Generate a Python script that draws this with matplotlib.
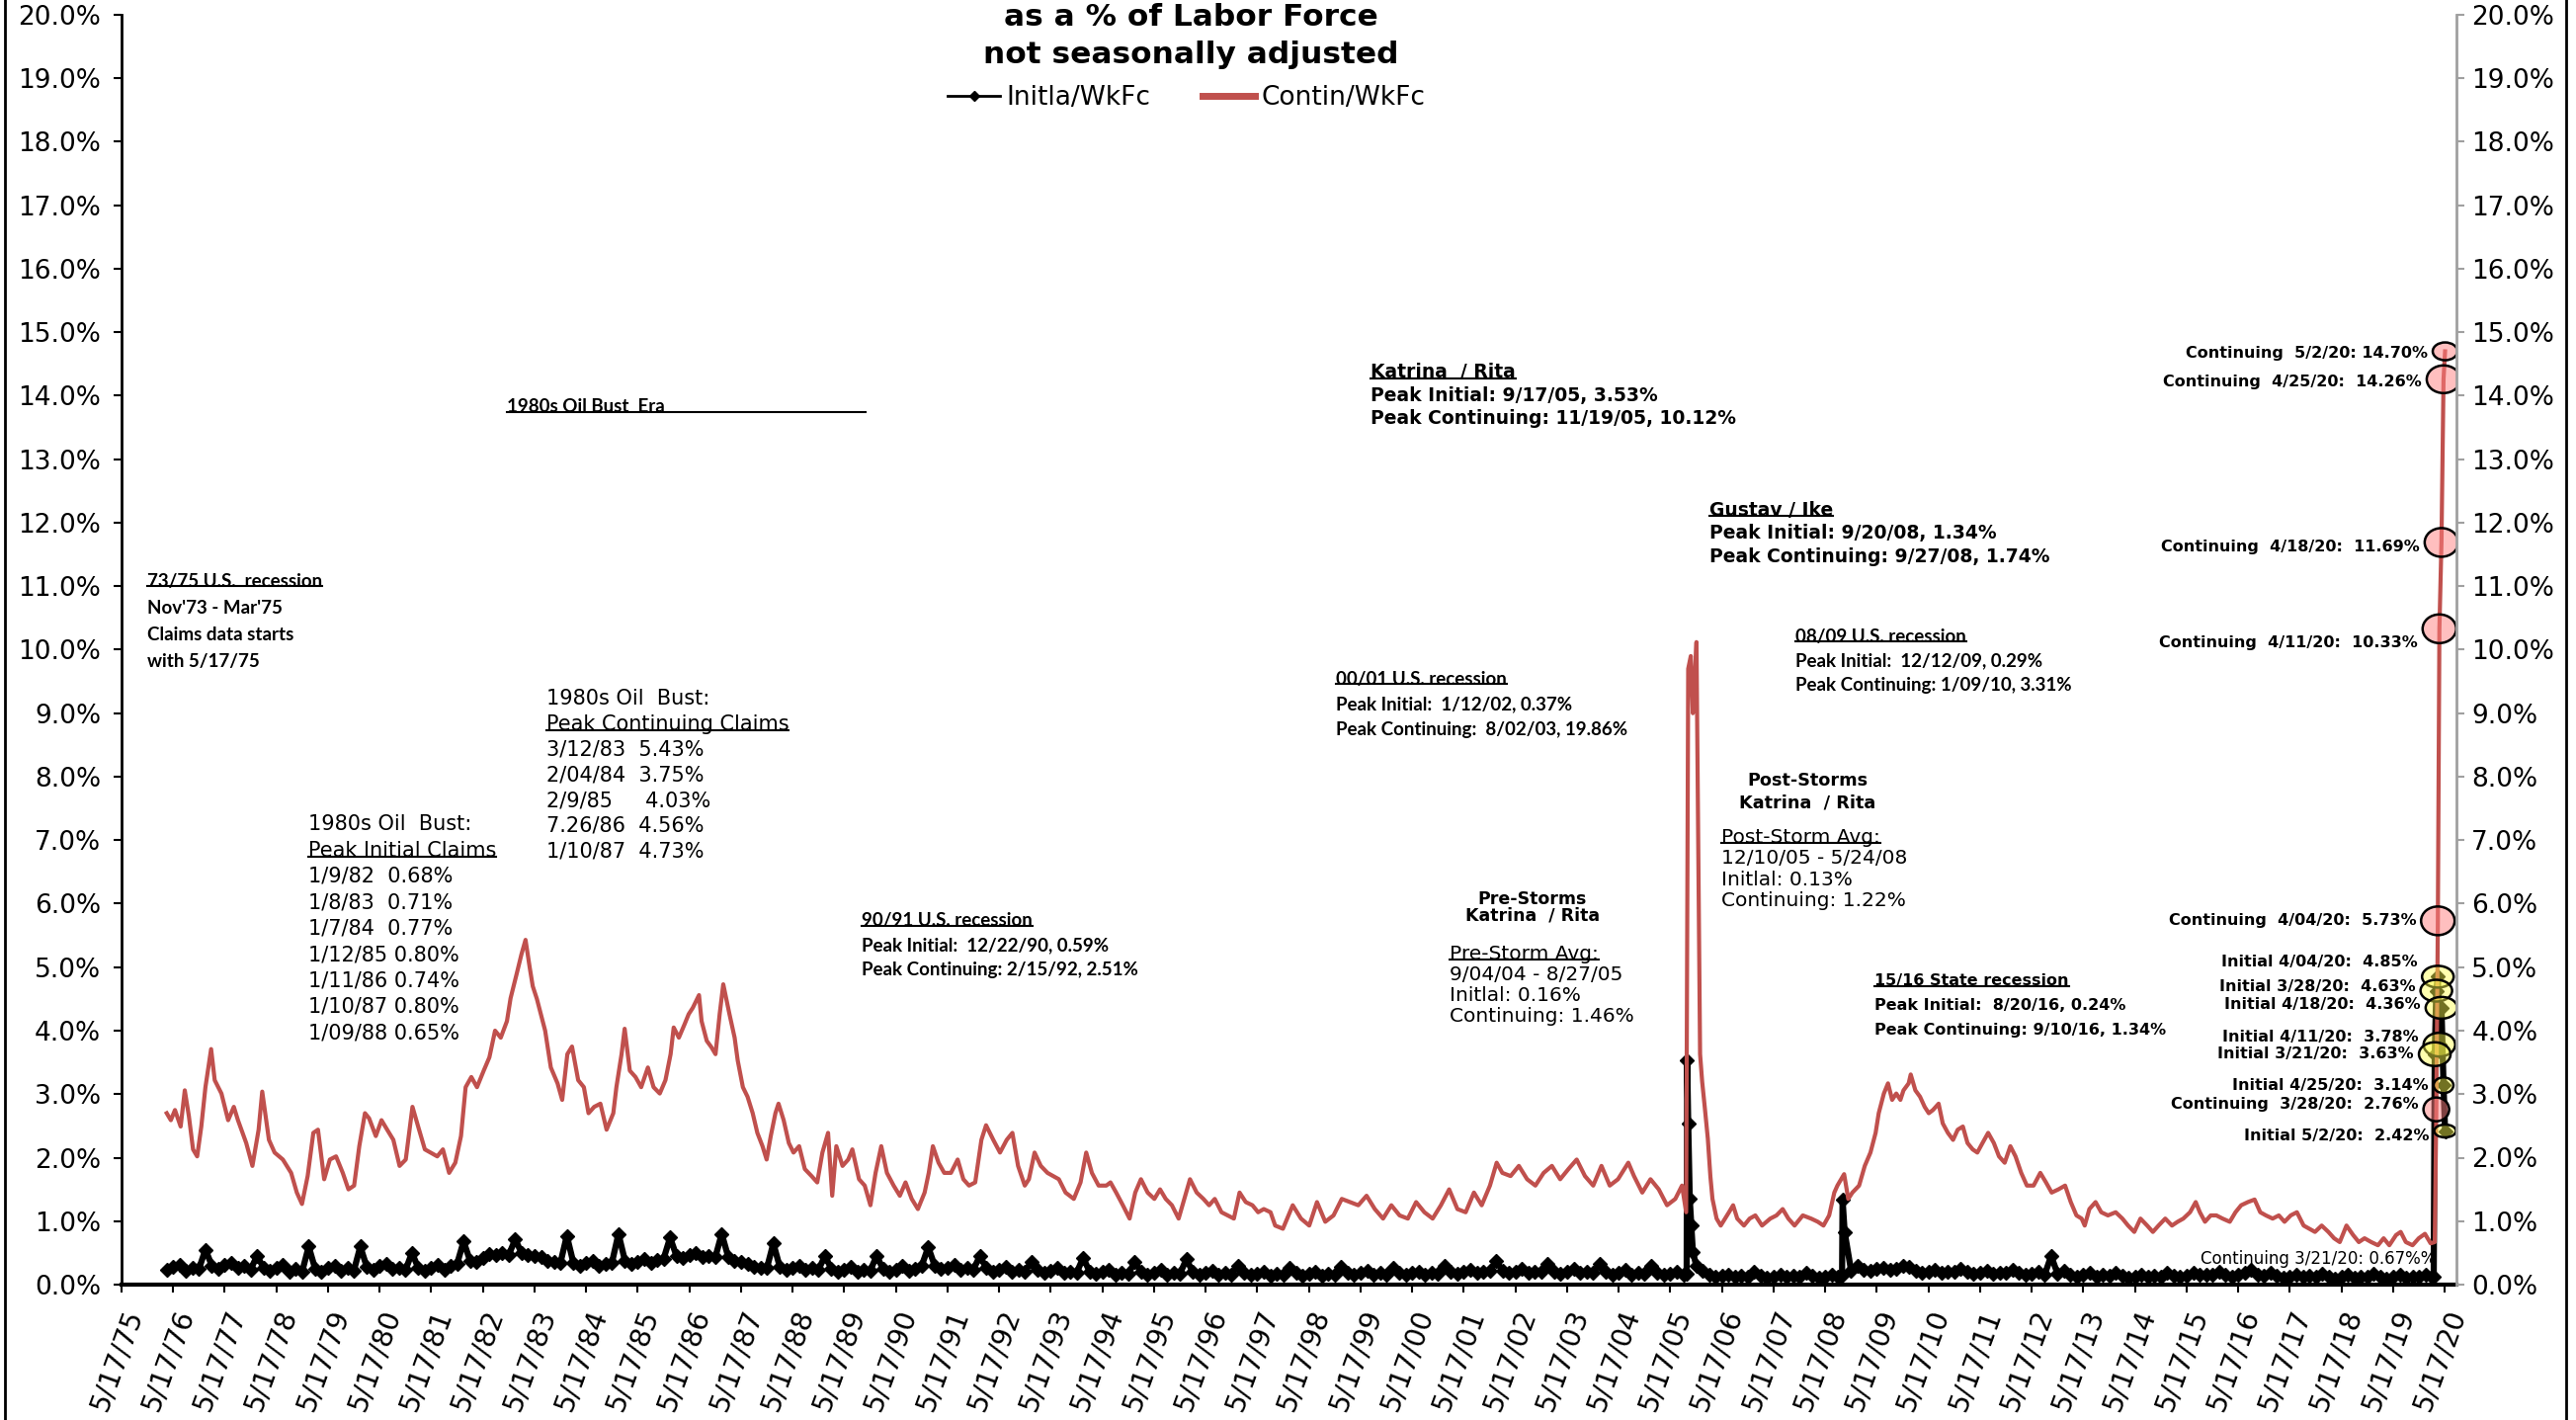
import numpy as np
import matplotlib
matplotlib.use("Agg")
import matplotlib.pyplot as plt
import matplotlib.transforms as mtrans
from matplotlib.patches import Ellipse
from matplotlib.lines import Line2D
from matplotlib.ticker import PercentFormatter

# ---------------------------------------------------------------- data
# continuing claims as % of labor force (decimal year, value)
cont_x = [
    1976.25, 1976.33, 1976.41, 1976.52, 1976.60, 1976.68, 1976.76, 1976.84, 1976.92,
    1977.00, 1977.11, 1977.18, 1977.31, 1977.44, 1977.55, 1977.63, 1977.79, 1977.91,
    1978.03, 1978.10, 1978.23, 1978.34, 1978.50, 1978.66, 1978.77, 1978.87, 1978.98,
    1979.09, 1979.18, 1979.30, 1979.41, 1979.53, 1979.66, 1979.77, 1979.88, 1979.98,
    1980.09, 1980.17, 1980.30, 1980.41, 1980.52, 1980.64, 1980.76, 1980.88,
    1981.01, 1981.12, 1981.25, 1981.36, 1981.49, 1981.60, 1981.72, 1981.84, 1981.95,
    1982.04, 1982.15, 1982.26, 1982.39, 1982.50, 1982.61, 1982.72, 1982.84, 1982.91,
    1983.03, 1983.12, 1983.20, 1983.28, 1983.34, 1983.42, 1983.58, 1983.69, 1983.82, 1983.91,
    1984.01, 1984.10, 1984.22, 1984.33, 1984.42, 1984.53, 1984.65, 1984.77, 1984.90, 1984.96,
    1985.06, 1985.12, 1985.22, 1985.33, 1985.44, 1985.57, 1985.68, 1985.80, 1985.91,
    1986.01, 1986.07, 1986.17, 1986.28, 1986.36, 1986.44, 1986.56, 1986.61, 1986.71, 1986.80, 1986.88, 1986.96,
    1987.03, 1987.15, 1987.25, 1987.31, 1987.41, 1987.50, 1987.60, 1987.69, 1987.79, 1987.87, 1987.95,
    1988.04, 1988.10, 1988.20, 1988.30, 1988.39, 1988.50, 1988.61, 1988.74, 1988.85, 1988.95,
    1989.06, 1989.14, 1989.22, 1989.34, 1989.45, 1989.53, 1989.66, 1989.77, 1989.88, 1989.98,
    1990.09, 1990.20, 1990.33, 1990.45, 1990.56, 1990.68, 1990.80, 1990.93,
    1991.01, 1991.09, 1991.20, 1991.31, 1991.44, 1991.57, 1991.68, 1991.79, 1991.91,
    1992.03, 1992.12, 1992.26, 1992.39, 1992.52, 1992.63, 1992.74, 1992.87, 1992.95,
    1993.06, 1993.18, 1993.31, 1993.42, 1993.53, 1993.66, 1993.82, 1993.95,
    1994.06, 1994.17, 1994.30, 1994.45, 1994.53, 1994.64, 1994.77, 1994.90,
    1995.01, 1995.12, 1995.25, 1995.38, 1995.49, 1995.60, 1995.72, 1995.85, 1995.96,
    1996.07, 1996.20, 1996.33, 1996.44, 1996.55, 1996.68, 1996.80, 1996.92,
    1997.03, 1997.15, 1997.28, 1997.39, 1997.50, 1997.63, 1997.72, 1997.87,
    1998.06, 1998.22, 1998.38, 1998.53, 1998.69, 1998.85,
    1999.01, 1999.17, 1999.33, 1999.49, 1999.65, 1999.81, 1999.97,
    2000.13, 2000.29, 2000.45, 2000.61, 2000.77, 2000.93,
    2001.09, 2001.25, 2001.41, 2001.57, 2001.72, 2001.88,
    2002.01, 2002.12, 2002.28, 2002.44, 2002.60, 2002.76, 2002.92,
    2003.08, 2003.24, 2003.40, 2003.56, 2003.72, 2003.88,
    2004.04, 2004.20, 2004.36, 2004.56, 2004.67, 2004.83, 2004.99,
    2005.15, 2005.31, 2005.47, 2005.60, 2005.68, 2005.72, 2005.77, 2005.81, 2005.85, 2005.88,
    2005.92, 2005.95, 2005.99, 2006.04, 2006.10, 2006.15, 2006.19, 2006.27, 2006.35,
    2006.51, 2006.59, 2006.67, 2006.80, 2006.91,
    2007.02, 2007.15, 2007.31, 2007.43, 2007.55, 2007.66, 2007.78, 2007.94,
    2008.10, 2008.23, 2008.34, 2008.45, 2008.55, 2008.61, 2008.74, 2008.82, 2008.90,
    2009.03, 2009.14, 2009.25, 2009.35, 2009.41, 2009.51, 2009.59, 2009.67, 2009.75, 2009.83, 2009.89, 2009.99,
    2010.03, 2010.12, 2010.21, 2010.30, 2010.38, 2010.46, 2010.57, 2010.65, 2010.75, 2010.85, 2010.94,
    2011.04, 2011.13, 2011.23, 2011.32, 2011.42, 2011.53, 2011.64, 2011.74, 2011.85, 2011.96,
    2012.06, 2012.17, 2012.28, 2012.41, 2012.54, 2012.65, 2012.76, 2012.89,
    2013.02, 2013.13, 2013.24, 2013.34, 2013.40, 2013.49, 2013.61, 2013.72, 2013.85,
    2014.00, 2014.13, 2014.24, 2014.36, 2014.48, 2014.61, 2014.72, 2014.83, 2014.96,
    2015.09, 2015.20, 2015.31, 2015.44, 2015.55, 2015.63, 2015.73, 2015.84, 2015.95,
    2016.07, 2016.21, 2016.32, 2016.43, 2016.56, 2016.69, 2016.80, 2016.91,
    2017.04, 2017.16, 2017.27, 2017.39, 2017.51, 2017.64, 2017.75, 2017.86, 2017.99,
    2018.12, 2018.23, 2018.34, 2018.47, 2018.60, 2018.71, 2018.82, 2018.95,
    2019.08, 2019.19, 2019.30, 2019.43, 2019.52, 2019.62, 2019.75, 2019.87, 2019.99,
    2020.10, 2020.18, 2020.21, 2020.24, 2020.27, 2020.31, 2020.35, 2020.38,
]
cont_vals = [
    2.70, 2.59, 2.75, 2.49, 3.06, 2.65, 2.13, 2.02, 2.49,
    3.11, 3.71, 3.22, 3.01, 2.59, 2.80, 2.59, 2.23, 1.87,
    2.44, 3.04, 2.28, 2.08, 1.97, 1.76, 1.45, 1.27, 1.71,
    2.39, 2.44, 1.66, 1.97, 2.02, 1.76, 1.50, 1.56, 2.18,
    2.70, 2.62, 2.34, 2.59, 2.44, 2.28, 1.87, 1.97,
    2.80, 2.49, 2.13, 2.08, 2.02, 2.13, 1.76, 1.92, 2.34,
    3.11, 3.27, 3.11, 3.37, 3.58, 4.00, 3.89, 4.15, 4.51,
    4.90, 5.20, 5.43, 5.00, 4.70, 4.50, 4.00, 3.42, 3.17, 2.91,
    3.63, 3.75, 3.22, 3.11, 2.70, 2.80, 2.85, 2.44, 2.70, 3.11,
    3.63, 4.03, 3.37, 3.27, 3.11, 3.42, 3.11, 3.01, 3.22,
    3.63, 4.05, 3.89, 4.10, 4.26, 4.36, 4.56, 4.15, 3.84, 3.74, 3.63, 4.26,
    4.73, 4.26, 3.89, 3.53, 3.11, 2.96, 2.70, 2.39, 2.18, 1.97, 2.34,
    2.70, 2.85, 2.59, 2.23, 2.08, 2.18, 1.82, 1.71, 1.61, 2.08,
    2.39, 1.40, 2.18, 1.87, 1.97, 2.13, 1.66, 1.56, 1.25, 1.76,
    2.18, 1.76, 1.56, 1.40, 1.61, 1.35, 1.19, 1.45,
    1.76, 2.18, 1.92, 1.76, 1.76, 1.97, 1.66, 1.56, 1.61,
    2.28, 2.51, 2.28, 2.08, 2.28, 2.39, 1.87, 1.56, 1.66,
    2.08, 1.87, 1.76, 1.71, 1.66, 1.45, 1.35, 1.61,
    2.08, 1.76, 1.56, 1.56, 1.61, 1.45, 1.25, 1.04,
    1.45, 1.66, 1.45, 1.35, 1.50, 1.35, 1.25, 1.04, 1.35,
    1.66, 1.45, 1.35, 1.25, 1.35, 1.14, 1.09, 1.04,
    1.45, 1.30, 1.25, 1.14, 1.19, 1.14, 0.93, 0.88,
    1.25, 1.04, 0.93, 1.30, 0.99, 1.09,
    1.35, 1.30, 1.25, 1.40, 1.19, 1.04, 1.25,
    1.09, 1.04, 1.30, 1.14, 1.04, 1.25,
    1.50, 1.19, 1.14, 1.45, 1.25, 1.56,
    1.92, 1.76, 1.71, 1.87, 1.66, 1.56, 1.76,
    1.87, 1.66, 1.82, 1.97, 1.71, 1.56,
    1.87, 1.56, 1.66, 1.92, 1.71, 1.45, 1.66,
    1.50, 1.25, 1.35, 1.56, 1.14, 9.70, 9.90, 9.00, 9.60, 10.12,
    6.50, 3.63, 3.20, 2.80, 2.30, 1.70, 1.35, 1.04, 0.93,
    1.14, 1.25, 1.04, 0.93, 1.04,
    1.09, 0.93, 1.04, 1.09, 1.19, 1.04, 0.93, 1.09,
    1.04, 0.99, 0.93, 1.09, 1.45, 1.56, 1.74, 1.35, 1.45,
    1.56, 1.87, 2.08, 2.39, 2.70, 3.01, 3.17, 2.91, 3.01, 2.91, 3.06, 3.17,
    3.31, 3.06, 2.96, 2.80, 2.70, 2.75, 2.85, 2.54, 2.39, 2.28, 2.44,
    2.49, 2.23, 2.13, 2.08, 2.23, 2.39, 2.23, 2.02, 1.92, 2.18,
    2.02, 1.76, 1.56, 1.56, 1.76, 1.61, 1.45, 1.50,
    1.56, 1.30, 1.09, 1.04, 0.93, 1.19, 1.30, 1.14, 1.09,
    1.14, 1.04, 0.93, 0.83, 1.04, 0.93, 0.83, 0.93, 1.04,
    0.93, 0.99, 1.04, 1.14, 1.30, 1.14, 0.99, 1.09, 1.09,
    1.04, 0.99, 1.14, 1.25, 1.30, 1.34, 1.14, 1.09,
    1.04, 1.09, 0.99, 1.09, 1.14, 0.93, 0.88, 0.83, 0.93,
    0.83, 0.73, 0.67, 0.93, 0.78, 0.67, 0.73, 0.67,
    0.62, 0.73, 0.62, 0.78, 0.83, 0.67, 0.62, 0.73, 0.80,
    0.65, 0.67, 2.76, 5.73, 10.33, 11.69, 14.26, 14.70,
]

# initial claims as % of labor force, read every 1/8 year from 1976.25 to 2020.125
init_start = 1976.25
init_step = 1 / 8
init_vals = [
    0.24, 0.28, 0.31, 0.22, 0.27, 0.25,                    # 1976
    0.55, 0.30, 0.25, 0.31, 0.34, 0.26, 0.29, 0.24,        # 1977
    0.45, 0.27, 0.22, 0.27, 0.31, 0.21, 0.25, 0.21,        # 1978
    0.60, 0.25, 0.21, 0.26, 0.30, 0.22, 0.26, 0.22,        # 1979
    0.60, 0.28, 0.24, 0.29, 0.33, 0.25, 0.27, 0.23,        # 1980
    0.50, 0.26, 0.22, 0.27, 0.31, 0.24, 0.30, 0.33,        # 1981
    0.68, 0.38, 0.36, 0.42, 0.48, 0.46, 0.50, 0.47,        # 1982
    0.71, 0.50, 0.46, 0.45, 0.44, 0.38, 0.36, 0.34,        # 1983
    0.77, 0.35, 0.30, 0.34, 0.37, 0.29, 0.33, 0.35,        # 1984
    0.80, 0.38, 0.33, 0.36, 0.40, 0.34, 0.39, 0.41,        # 1985
    0.74, 0.45, 0.42, 0.46, 0.50, 0.44, 0.45, 0.43,        # 1986
    0.80, 0.44, 0.38, 0.36, 0.33, 0.28, 0.27, 0.26,        # 1987
    0.65, 0.28, 0.24, 0.27, 0.30, 0.23, 0.26, 0.24,        # 1988
    0.45, 0.25, 0.21, 0.24, 0.28, 0.21, 0.24, 0.22,        # 1989
    0.45, 0.25, 0.21, 0.24, 0.29, 0.22, 0.25, 0.30,        # 1990
    0.59, 0.30, 0.25, 0.27, 0.31, 0.24, 0.27, 0.24,        # 1991
    0.45, 0.26, 0.21, 0.24, 0.28, 0.20, 0.23, 0.21,        # 1992
    0.36, 0.23, 0.19, 0.22, 0.26, 0.19, 0.21, 0.19,        # 1993
    0.42, 0.21, 0.17, 0.20, 0.24, 0.16, 0.19, 0.17,        # 1994
    0.36, 0.20, 0.16, 0.19, 0.23, 0.16, 0.19, 0.17,        # 1995
    0.40, 0.20, 0.16, 0.19, 0.22, 0.15, 0.18, 0.16,        # 1996
    0.30, 0.19, 0.15, 0.17, 0.21, 0.14, 0.17, 0.15,        # 1997
    0.27, 0.18, 0.14, 0.17, 0.21, 0.14, 0.17, 0.16,        # 1998
    0.28, 0.19, 0.15, 0.18, 0.22, 0.15, 0.18, 0.16,        # 1999
    0.26, 0.18, 0.15, 0.18, 0.21, 0.15, 0.18, 0.17,        # 2000
    0.30, 0.20, 0.17, 0.20, 0.24, 0.18, 0.21, 0.22,        # 2001
    0.37, 0.22, 0.18, 0.21, 0.25, 0.18, 0.21, 0.20,        # 2002
    0.33, 0.21, 0.17, 0.20, 0.25, 0.18, 0.21, 0.19,        # 2003
    0.32, 0.20, 0.16, 0.19, 0.23, 0.16, 0.19, 0.17,        # 2004
    0.30, 0.19, 0.15, 0.17, 0.20, 0.16, 1.35, 0.30,        # 2005
    0.22, 0.15, 0.12, 0.14, 0.16, 0.12, 0.14, 0.13,        # 2006
    0.20, 0.14, 0.11, 0.13, 0.16, 0.12, 0.14, 0.13,        # 2007
    0.19, 0.14, 0.11, 0.13, 0.15, 0.12, 0.83, 0.22,        # 2008
    0.30, 0.24, 0.22, 0.25, 0.27, 0.23, 0.25, 0.29,        # 2009
    0.28, 0.22, 0.19, 0.21, 0.24, 0.19, 0.21, 0.20,        # 2010
    0.25, 0.20, 0.17, 0.19, 0.22, 0.17, 0.19, 0.18,        # 2011
    0.24, 0.18, 0.15, 0.17, 0.20, 0.16, 0.45, 0.17,        # 2012
    0.22, 0.16, 0.13, 0.15, 0.18, 0.13, 0.15, 0.14,        # 2013
    0.19, 0.14, 0.11, 0.13, 0.16, 0.12, 0.14, 0.13,        # 2014
    0.18, 0.14, 0.12, 0.14, 0.18, 0.15, 0.16, 0.15,        # 2015
    0.20, 0.15, 0.13, 0.15, 0.19, 0.24, 0.16, 0.14,        # 2016
    0.19, 0.14, 0.11, 0.13, 0.16, 0.12, 0.14, 0.13,        # 2017
    0.17, 0.13, 0.10, 0.12, 0.15, 0.11, 0.13, 0.12,        # 2018
    0.17, 0.13, 0.10, 0.12, 0.15, 0.11, 0.13, 0.12,        # 2019
    0.16, 0.13,                                            # 2020
]
# storm weeks and the 2020 surge, off the regular grid
init_event_x = [2005.69, 2005.70, 2005.72, 2005.78, 2005.81, 2008.70, 2008.71,
                2020.16, 2020.18, 2020.21, 2020.24, 2020.27, 2020.31, 2020.35, 2020.38]
init_event_vals = [0.17, 3.53, 2.54, 0.93, 0.52, 0.14, 1.34,
                   0.12, 3.63, 4.63, 4.85, 3.78, 4.36, 3.14, 2.42]

# 2020 call-outs
cont_hl_labels = ["Continuing  5/2/20: 14.70%", "Continuing  4/25/20:  14.26%",
                  "Continuing  4/18/20:  11.69%", "Continuing  4/11/20:  10.33%",
                  "Continuing  4/04/20:  5.73%", "Continuing  3/28/20:  2.76%"]
cont_hl_x = [2020.38, 2020.35, 2020.31, 2020.27, 2020.24, 2020.21]
cont_hl_vals = [14.70, 14.26, 11.69, 10.33, 5.73, 2.76]
init_hl_labels = ["Initial 4/04/20:  4.85%", "Initial 3/28/20:  4.63%", "Initial 4/18/20:  4.36%",
                  "Initial 4/11/20:  3.78%", "Initial 3/21/20:  3.63%", "Initial 4/25/20:  3.14%",
                  "Initial 5/2/20:  2.42%"]
init_hl_x = [2020.24, 2020.21, 2020.31, 2020.27, 2020.18, 2020.35, 2020.38]
init_hl_vals = [4.85, 4.63, 4.36, 3.78, 3.63, 3.14, 2.42]

tick_years = list(range(1975, 2021))
xtick_labels = ["5/17/%02d" % (y % 100) for y in tick_years]
ytick_vals = list(range(0, 21))

# ---------------------------------------------------------------- style
RED = "#C0504D"
GREY = "#A0A0A0"
DPI = 100
W, H = 2607, 1437

# ellipse sizes (px) and label nudges (px) for the call-outs
cont_hl_size = [(25, 18), (34, 28), (34, 29), (34, 29), (34, 29), (26, 24)]
cont_hl_nudge = [-2, -3, -5, -14, 0, 5]
init_hl_size = [(32, 22), (32, 22), (32, 22), (32, 24), (32, 24), (20, 16), (22, 13)]
init_hl_nudge = [15, 4, 3, 8, 0, 0, -5]

fig = plt.figure(figsize=(W / DPI, H / DPI), dpi=DPI)
ax = fig.add_axes([123 / W, 1 - 1300 / H, (2486 - 123) / W, (1300 - 15) / H])

init_x = init_start + np.arange(len(init_vals)) * init_step
ix = np.concatenate([init_x, init_event_x])
iv = np.concatenate([init_vals, init_event_vals])
order = np.argsort(ix, kind="stable")

ax.plot(ix[order], iv[order], color="black", lw=4.5, marker="D", ms=7.5, zorder=2)
ax.plot(cont_x, cont_vals, color=RED, lw=3, zorder=3)

ax.set_xlim(1975.375, 2020.60)
ax.set_ylim(0, 20)
ax.set_xticks([y + 0.375 for y in tick_years])
ax.set_xticklabels(xtick_labels, rotation=70, ha="right", va="top",
                   rotation_mode="anchor", fontsize=20)
ax.set_yticks(ytick_vals)
ax.yaxis.set_major_formatter(PercentFormatter(xmax=100, decimals=1))
ax.tick_params(axis="x", direction="out", length=6, width=1.5, pad=9)
ax.tick_params(axis="y", direction="out", length=6, width=1.5, pad=9, labelsize=19)
for s in ("top", "right"):
    ax.spines[s].set_visible(False)
ax.spines["left"].set_linewidth(2)
ax.spines["bottom"].set_linewidth(3)

ax2 = ax.twinx()
ax2.set_ylim(0, 20)
ax2.set_yticks(ytick_vals)
ax2.yaxis.set_major_formatter(PercentFormatter(xmax=100, decimals=1))
ax2.tick_params(axis="y", direction="out", length=6, width=1.5, pad=5,
                labelsize=19, color=GREY)
for s in ("top", "left", "bottom"):
    ax2.spines[s].set_visible(False)
ax2.spines["right"].set_color(GREY)
ax2.spines["right"].set_linewidth(2)

# ---------------------------------------------------------------- call-outs
def callouts(xs, vals, labels, sizes, nudges, face):
    for xv, v, lab, (w, h), dy in zip(xs, vals, labels, sizes, nudges):
        tr = fig.dpi_scale_trans + mtrans.ScaledTranslation(xv, v, ax.transData)
        ax.add_patch(Ellipse((0, 0), w / DPI, h / DPI, transform=tr, facecolor=face,
                             edgecolor="black", lw=1.8, zorder=5))
        ax.annotate(lab, xy=(xv, v), xytext=(-(w / 2 + 5) * 72 / DPI, dy * 72 / DPI),
                    textcoords="offset points", ha="right", va="center",
                    fontsize=11.5, fontweight="bold", zorder=6)

callouts(cont_hl_x, cont_hl_vals, cont_hl_labels, cont_hl_size, cont_hl_nudge, (1, 0.5, 0.5, 0.5))
callouts(init_hl_x, init_hl_vals, init_hl_labels, init_hl_size, init_hl_nudge, (1, 1, 0.3, 0.45))

ax.text(2020.20, 0.40, "Continuing 3/21/20: 0.67%%", ha="right", va="center", fontsize=12)

# ---------------------------------------------------------------- notes
underlines = []

def note(x, y, lines, size, gap, weight="normal", family="DejaVu Sans", ha="left",
         uline=None, uline_to=None):
    for i, s in enumerate(lines):
        tr = mtrans.offset_copy(ax.transData, fig=fig, y=-i * gap, units="dots")
        t = ax.text(x, y, s, transform=tr, fontsize=size, fontweight=weight,
                    family=family, ha=ha, va="center", zorder=6)
        if uline == i:
            underlines.append((t, uline_to))

CAL = "Lato"
note(1975.87, 11.08, ["73/75 U.S.  recession", "Nov'73 - Mar'75", "Claims data starts",
                      "with 5/17/75"], 13.5, 27, "bold", CAL, uline=0)
note(1982.84, 13.83, ["1980s Oil Bust  Era"], 13.5, 0, "bold", CAL, uline=0, uline_to=1989.79)
note(1983.60, 9.23, ["1980s Oil  Bust:", "Peak Continuing Claims", "3/12/83  5.43%",
                     "2/04/84  3.75%", "2/9/85     4.03%", "7.26/86  4.56%",
                     "1/10/87  4.73%"], 15, 25.8, uline=1)
note(1978.99, 7.25, ["1980s Oil  Bust:", "Peak Initial Claims", "1/9/82  0.68%",
                     "1/8/83  0.71%", "1/7/84  0.77%", "1/12/85 0.80%", "1/11/86 0.74%",
                     "1/10/87 0.80%", "1/09/88 0.65%"], 15, 26.4, uline=1)
note(1989.71, 5.73, ["90/91 U.S. recession", "Peak Initial:  12/22/90, 0.59%",
                     "Peak Continuing: 2/15/92, 2.51%"], 13.5, 25, "bold", CAL, uline=0)
note(2002.705, 6.07, ["Pre-Storms", "Katrina  / Rita"], 12.5, 16.5, "bold", ha="center")
note(2001.10, 5.21, ["Pre-Storm Avg:", "9/04/04 - 8/27/05", "Initlal: 0.16%",
                     "Continuing: 1.46%"], 14.5, 21, uline=0)
note(1999.57, 14.37, ["Katrina  / Rita", "Peak Initial: 9/17/05, 3.53%",
                      "Peak Continuing: 11/19/05, 10.12%"], 13.5, 23.5, "bold", uline=0)
note(2006.13, 12.20, ["Gustav / Ike", "Peak Initial: 9/20/08, 1.34%",
                      "Peak Continuing: 9/27/08, 1.74%"], 13.5, 23.5, "bold", uline=0)
note(2007.80, 10.21, ["08/09 U.S. recession", "Peak Initial:  12/12/09, 0.29%",
                      "Peak Continuing: 1/09/10, 3.31%"], 13.5, 24.5, "bold", CAL, uline=0)
note(1998.90, 9.54, ["00/01 U.S. recession", "Peak Initial:  1/12/02, 0.37%",
                     "Peak Continuing:  8/02/03, 19.86%"], 13.5, 25.5, "bold", CAL, uline=0)
note(2008.03, 7.94, ["Post-Storms", "Katrina  / Rita"], 12.7, 23, "bold", ha="center")
note(2006.36, 7.05, ["Post-Storm Avg:", "12/10/05 - 5/24/08", "Initlal: 0.13%",
                     "Continuing: 1.22%"], 14.5, 21.5, uline=0)
note(2009.33, 4.78, ["15/16 State recession", "Peak Initial:  8/20/16, 0.24%",
                     "Peak Continuing: 9/10/16, 1.34%"], 11.5, 25, "bold", uline=0)

# ---------------------------------------------------------------- title, legend, frame
fig.text(1205 / W, 1 - 18 / H, "as a % of Labor Force", ha="center", va="center",
         fontsize=22.5, fontweight="bold")
fig.text(1205 / W, 1 - 55 / H, "not seasonally adjusted", ha="center", va="center",
         fontsize=22.5, fontweight="bold")

handles = [Line2D([], [], color="black", lw=2, marker="D", ms=5),
           Line2D([], [], color=RED, lw=5)]
fig.legend(handles, ["Initla/WkFc", "Contin/WkFc"], loc="center",
           bbox_to_anchor=(1201 / W, 1 - 99 / H), ncol=2, frameon=False, fontsize=19,
           handlelength=2.0, handletextpad=0.25, columnspacing=2.0, numpoints=1)

for xf in (5 / W, 2597 / W):
    fig.add_artist(Line2D([xf, xf], [0, 1], transform=fig.transFigure, color="black", lw=2))

fig.canvas.draw()
r = fig.canvas.get_renderer()
for t, x_end in underlines:
    bb = t.get_window_extent(r)
    em = t.get_fontsize() * DPI / 72
    yy = bb.y0 + 0.17 * em
    x1 = bb.x1 if x_end is None else ax.transData.transform((x_end, 0))[0]
    fig.add_artist(Line2D([bb.x0 / W, x1 / W], [yy / H, yy / H], transform=fig.transFigure,
                          color="black", lw=1.5))

fig.savefig("out.png", dpi=DPI)
